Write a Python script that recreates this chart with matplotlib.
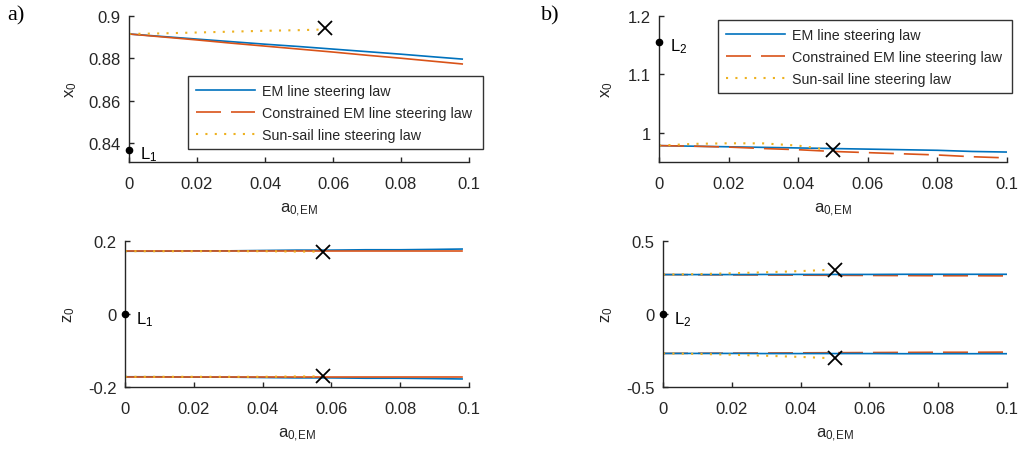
import matplotlib
matplotlib.use("Agg")
import matplotlib.pyplot as plt
from matplotlib.lines import Line2D

# ---------------- data ----------------
# Panel a (L1), x0
a_x_em = [0.0, 0.01, 0.02, 0.03, 0.04, 0.05, 0.06, 0.07, 0.08, 0.09, 0.098]
a_x0_em = [0.8914, 0.8902, 0.8890, 0.8878, 0.8866, 0.8855, 0.8843, 0.8831, 0.8819, 0.8806, 0.8796]
a_x0_con = [0.8914, 0.8900, 0.8886, 0.8871, 0.8857, 0.8843, 0.8829, 0.8814, 0.8800, 0.8785, 0.8773]
a_x_ss = [0.0, 0.01, 0.02, 0.03, 0.04, 0.05, 0.057]
a_x0_ss = [0.8914, 0.8917, 0.8921, 0.8925, 0.8929, 0.8932, 0.8935]
a_cross_x = 0.0575
a_cross_x0 = 0.8940
a_L_x0 = 0.8369

# Panel a, z0 (upper and lower branches)
a_z0_em_up = [0.172, 0.172, 0.173, 0.173, 0.174, 0.175, 0.175, 0.176, 0.176, 0.177, 0.178]
a_z0_con_up = [0.172, 0.172, 0.172, 0.172, 0.172, 0.172, 0.172, 0.172, 0.172, 0.172, 0.172]
a_z0_ss_up = [0.172, 0.172, 0.172, 0.172, 0.172, 0.171, 0.171]
a_cross_z0 = 0.171

# Panel b (L2), x0
b_x = [0.0, 0.01, 0.02, 0.03, 0.04, 0.05, 0.06, 0.07, 0.08, 0.09, 0.1]
b_x0_em = [0.978, 0.977, 0.976, 0.975, 0.974, 0.973, 0.972, 0.971, 0.970, 0.968, 0.967]
b_x0_con = [0.978, 0.977, 0.9755, 0.973, 0.971, 0.968, 0.966, 0.964, 0.962, 0.959, 0.957]
b_x_ss = [0.0, 0.01, 0.02, 0.03, 0.04, 0.045, 0.048]
b_x0_ss = [0.978, 0.981, 0.982, 0.9818, 0.978, 0.974, 0.971]
b_cross_x = 0.05
b_cross_x0 = 0.971
b_L_x0 = 1.1557

# Panel b, z0
b_z0_em_up = [0.270, 0.270, 0.270, 0.271, 0.271, 0.271, 0.271, 0.272, 0.272, 0.272, 0.272]
b_z0_con_up = [0.270, 0.269, 0.268, 0.267, 0.266, 0.265, 0.264, 0.263, 0.262, 0.262, 0.261]
b_x_ss_z = [0.0, 0.01, 0.02, 0.03, 0.04, 0.048]
b_z0_ss_up = [0.270, 0.273, 0.279, 0.286, 0.294, 0.302]
b_cross_z0 = 0.304

legend_labels = ["EM line steering law", "Constrained EM line steering law",
                 "Sun-sail line steering law"]
xticks = [0, 0.02, 0.04, 0.06, 0.08, 0.1]
xticklabels = ["0", "0.02", "0.04", "0.06", "0.08", "0.1"]

# ---------------- style ----------------
plt.rcParams["font.family"] = ["Liberation Sans", "DejaVu Sans"]
plt.rcParams["mathtext.fontset"] = "custom"
plt.rcParams["mathtext.rm"] = "Liberation Sans"
plt.rcParams["mathtext.it"] = "Liberation Sans"
plt.rcParams["mathtext.default"] = "regular"
TXT = "#262626"
C_EM = "#0072BD"
C_CON = "#D95319"
C_SS = "#EDB120"
LW = 1.2
DASH = (0, (15, 6))
DOT = (0, (1, 3.5))
LW_DOT = 1.5
FS = 12

fig = plt.figure(figsize=(10.19, 4.52), dpi=100)
W, H = 1019, 452


def add_axes(l, r, t, b):
    return fig.add_axes([l / W, 1 - b / H, (r - l) / W, (b - t) / H])


def style(ax, ylim, yticks, yticklabels, ylabel, ylab_x):
    ax.set_xlim(0, 0.1)
    ax.set_ylim(*ylim)
    ax.set_xticks(xticks)
    ax.set_xticklabels(xticklabels)
    ax.set_yticks(yticks)
    ax.set_yticklabels(yticklabels)
    for s in ["top", "right"]:
        ax.spines[s].set_visible(False)
    for s in ["left", "bottom"]:
        ax.spines[s].set_color(TXT)
        ax.spines[s].set_linewidth(1.0)
    ax.tick_params(direction="in", length=3.5, width=1.0, colors=TXT,
                   labelsize=FS)
    ax.tick_params(axis="x", pad=10)
    ax.tick_params(axis="y", pad=6)
    ax.set_ylabel(ylabel, fontsize=12, color=TXT)
    ax.yaxis.set_label_coords(ylab_x, 0.5)
    ax.set_xlabel(r"a$_{0,\!EM}$", fontsize=12, color=TXT, labelpad=7)


def point(ax, y, name):
    ax.plot([0], [y], "o", color="black", ms=4.5, clip_on=False, zorder=6)
    ax.annotate(name, (0, y), xytext=(8, -3), textcoords="offset points",
                fontsize=12, color="black", va="center", ha="left")


def cross(ax, x, y):
    ax.plot([x], [y], "x", color="black", ms=10, mew=1.3, zorder=6)


def legend(ax, x0, y0, w, h):
    handles = [Line2D([], [], color=C_EM, lw=LW),
               Line2D([], [], color=C_CON, lw=LW, ls=DASH),
               Line2D([], [], color=C_SS, lw=LW_DOT, ls=DOT)]
    lg = ax.legend(handles, legend_labels, loc="upper left",
                   bbox_to_anchor=(x0, y0, w, h), mode="expand",
                   borderaxespad=0, fontsize=10.3, handlelength=4.1,
                   handletextpad=0.5, labelspacing=0.55, borderpad=0.55,
                   fancybox=False, framealpha=1, edgecolor="#333333")
    lg.get_frame().set_linewidth(1.0)
    for t in lg.get_texts():
        t.set_color(TXT)


# ---- panel a, top ----
ax1 = add_axes(129, 469, 16.7, 163)
ax1.plot(a_x_em, a_x0_em, color=C_EM, lw=LW)
ax1.plot(a_x_em, a_x0_con, color=C_CON, lw=LW)
ax1.plot(a_x_ss, a_x0_ss, color=C_SS, lw=LW_DOT, ls=DOT)
cross(ax1, a_cross_x, a_cross_x0)
style(ax1, (0.8312, 0.9), [0.84, 0.86, 0.88, 0.9],
      ["0.84", "0.86", "0.88", "0.9"], "x$_0$", -0.147)
point(ax1, a_L_x0, "L$_1$")
legend(ax1, 0.174, 0.10, 0.867, 0.488)

# ---- panel a, bottom ----
ax2 = add_axes(125, 469, 242, 388)
for sgn in (1, -1):
    ax2.plot(a_x_em, [sgn * v for v in a_z0_em_up], color=C_EM, lw=LW)
    ax2.plot(a_x_em, [sgn * v for v in a_z0_con_up], color=C_CON, lw=LW)
    ax2.plot(a_x_ss, [sgn * v for v in a_z0_ss_up], color=C_SS, lw=LW_DOT, ls=DOT)
    cross(ax2, a_cross_x, sgn * a_cross_z0)
style(ax2, (-0.2, 0.2), [-0.2, 0, 0.2], ["-0.2", "0", "0.2"], "z$_0$", -0.14)
point(ax2, 0, "L$_1$")

# ---- panel b, top ----
ax3 = add_axes(659, 1007, 16.7, 163)
ax3.plot(b_x, b_x0_em, color=C_EM, lw=LW)
ax3.plot(b_x, b_x0_con, color=C_CON, lw=LW, ls=DASH)
ax3.plot(b_x_ss, b_x0_ss, color=C_SS, lw=LW_DOT, ls=DOT)
cross(ax3, b_cross_x, b_cross_x0)
style(ax3, (0.95, 1.2), [1.0, 1.1, 1.2], ["1", "1.1", "1.2"], "x$_0$", -0.126)
point(ax3, b_L_x0, "L$_2$")
legend(ax3, 0.170, 0.485, 0.844, 0.486)

# ---- panel b, bottom ----
ax4 = add_axes(663, 1007, 242, 388)
for sgn in (1, -1):
    ax4.plot(b_x, [sgn * v for v in b_z0_con_up], color=C_CON, lw=LW, ls=DASH)
    ax4.plot(b_x, [sgn * v for v in b_z0_em_up], color=C_EM, lw=LW)
    ax4.plot(b_x_ss_z, [sgn * v for v in b_z0_ss_up], color=C_SS, lw=LW_DOT, ls=DOT)
    cross(ax4, b_cross_x, sgn * b_cross_z0)
style(ax4, (-0.5, 0.5), [-0.5, 0, 0.5], ["-0.5", "0", "0.5"], "z$_0$", -0.14)
point(ax4, 0, "L$_2$")

# panel letters
fig.text(7 / W, 1 - 6 / H, "a)", fontsize=16, family="Liberation Serif",
         va="top", ha="left", color="black")
fig.text(541 / W, 1 - 6 / H, "b)", fontsize=16, family="Liberation Serif",
         va="top", ha="left", color="black")

fig.savefig("out.png", dpi=100)
